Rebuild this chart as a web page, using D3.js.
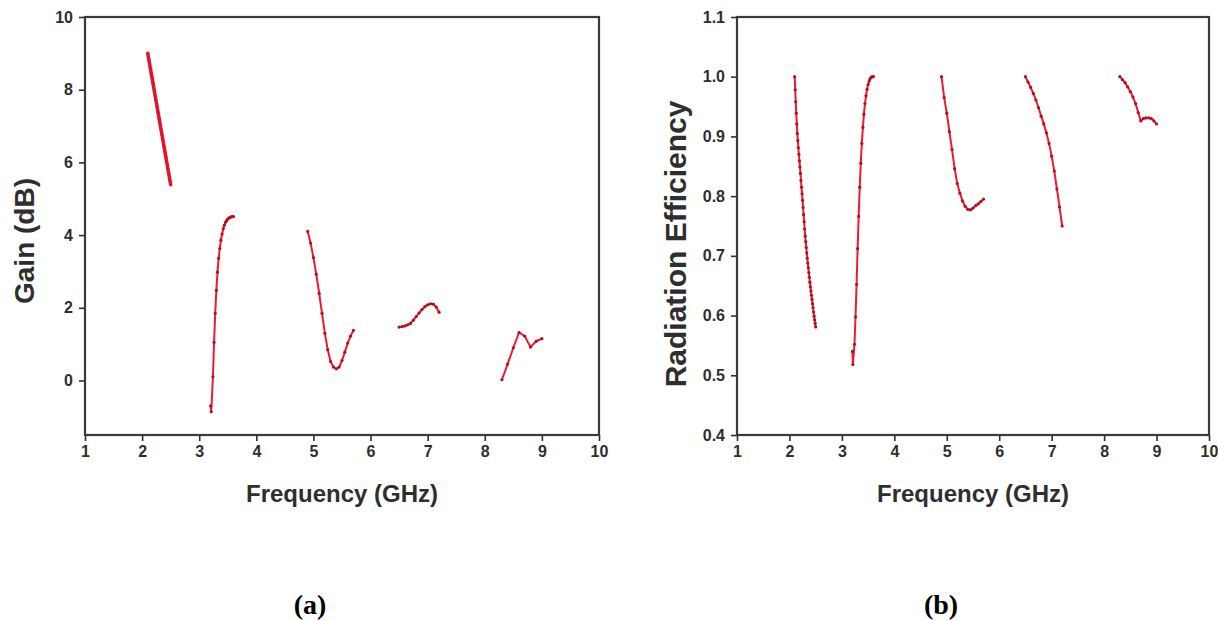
<!DOCTYPE html>
<html>
<head>
<meta charset="utf-8">
<script src="https://cdn.jsdelivr.net/npm/d3@7"></script>
<style>
  html, body { margin: 0; padding: 0; background: #fff; }
  svg { display: block; }
</style>
</head>
<body>
<svg id="fig" width="1218" height="621"></svg>
<script>
// ---- Gain (dB) per band: [frequency GHz, gain dB]
const gainBand1 = [
  [2.10,9.00],[2.11,8.90],[2.12,8.81],[2.13,8.72],[2.14,8.63],[2.15,8.54],[2.16,8.45],
  [2.17,8.36],[2.18,8.27],[2.19,8.18],[2.20,8.09],[2.21,8.00],[2.22,7.91],[2.23,7.82],
  [2.24,7.73],[2.25,7.64],[2.26,7.55],[2.27,7.46],[2.28,7.37],[2.29,7.28],[2.30,7.19],
  [2.31,7.10],[2.32,7.01],[2.33,6.92],[2.34,6.83],[2.35,6.74],[2.36,6.65],[2.37,6.56],
  [2.38,6.47],[2.39,6.38],[2.40,6.29],[2.41,6.20],[2.42,6.11],[2.43,6.02],[2.44,5.93],
  [2.45,5.84],[2.46,5.75],[2.47,5.66],[2.48,5.57],[2.49,5.48],[2.50,5.39]
];
const gainBand2 = [
  [3.20,-0.70],[3.21,-0.86],[3.24,0.10],[3.26,1.05],[3.28,1.85],[3.30,2.48],[3.32,2.98],
  [3.34,3.36],[3.36,3.63],[3.38,3.86],[3.40,4.03],[3.42,4.17],[3.44,4.27],[3.46,4.35],
  [3.48,4.40],[3.50,4.44],[3.52,4.47],[3.54,4.49],[3.56,4.50],[3.58,4.51],[3.60,4.51]
];
const gainBand3 = [
  [4.90,4.10],[4.95,3.78],[5.00,3.38],[5.05,2.92],[5.10,2.40],[5.15,1.85],[5.20,1.30],
  [5.25,0.85],[5.30,0.52],[5.35,0.37],[5.40,0.32],[5.45,0.37],[5.50,0.55],[5.55,0.78],
  [5.60,1.03],[5.65,1.22],[5.70,1.38]
];
const gainBand4 = [
  [6.50,1.47],[6.55,1.48],[6.60,1.50],[6.65,1.53],[6.70,1.57],[6.75,1.66],[6.80,1.76],
  [6.85,1.86],[6.90,1.95],[6.95,2.03],[7.00,2.08],[7.05,2.11],[7.10,2.10],[7.15,2.02],
  [7.20,1.88]
];
const gainBand5 = [
  [8.30,0.02],[8.40,0.45],[8.50,0.90],[8.60,1.32],[8.70,1.22],[8.80,0.92],[8.90,1.08],
  [9.00,1.15]
];

// ---- Radiation efficiency per band: [frequency GHz, efficiency]
const effBand1 = [
  [2.10,1.000],[2.11,0.978],[2.12,0.958],[2.13,0.939],[2.14,0.921],[2.15,0.905],[2.16,0.893],
  [2.17,0.881],[2.18,0.870],[2.19,0.859],[2.20,0.849],[2.21,0.838],[2.22,0.826],[2.23,0.815],
  [2.24,0.804],[2.25,0.793],[2.26,0.781],[2.27,0.769],[2.28,0.757],[2.29,0.745],[2.30,0.733],
  [2.31,0.724],[2.32,0.714],[2.33,0.705],[2.34,0.696],[2.35,0.688],[2.36,0.680],[2.37,0.672],
  [2.38,0.664],[2.39,0.656],[2.40,0.648],[2.41,0.641],[2.42,0.634],[2.43,0.627],[2.44,0.620],
  [2.45,0.613],[2.46,0.606],[2.47,0.599],[2.48,0.593],[2.49,0.587],[2.50,0.581]
];
const effBand2 = [
  [3.20,0.540],[3.21,0.518],[3.24,0.552],[3.26,0.598],[3.28,0.652],[3.30,0.712],[3.32,0.766],
  [3.34,0.815],[3.36,0.855],[3.38,0.888],[3.40,0.915],[3.42,0.937],[3.44,0.955],[3.46,0.968],
  [3.48,0.979],[3.50,0.987],[3.52,0.993],[3.54,0.997],[3.56,0.999],[3.58,1.000],[3.60,1.000]
];
const effBand3 = [
  [4.90,1.000],[4.95,0.965],[5.00,0.939],[5.05,0.908],[5.10,0.878],[5.15,0.846],[5.20,0.821],
  [5.25,0.805],[5.30,0.792],[5.35,0.783],[5.40,0.778],[5.45,0.777],[5.50,0.780],[5.55,0.784],
  [5.60,0.787],[5.65,0.791],[5.70,0.795]
];
const effBand4 = [
  [6.50,1.000],[6.55,0.991],[6.60,0.982],[6.65,0.972],[6.70,0.961],[6.75,0.948],[6.80,0.934],
  [6.85,0.921],[6.90,0.906],[6.95,0.888],[7.00,0.867],[7.05,0.842],[7.10,0.812],[7.15,0.782],
  [7.20,0.750]
];
const effBand5 = [
  [8.30,1.000],[8.35,0.995],[8.40,0.990],[8.45,0.983],[8.50,0.975],[8.55,0.966],[8.60,0.955],
  [8.65,0.940],[8.70,0.926],[8.75,0.930],[8.80,0.931],[8.85,0.931],[8.90,0.930],[8.95,0.926],
  [9.00,0.921]
];

// ---- Axis ticks
const freqTicks = [1,2,3,4,5,6,7,8,9,10];
const gainTicks = [0,2,4,6,8,10];
const effTicks = [0.4,0.5,0.6,0.7,0.8,0.9,1.0,1.1];

const svg = d3.select("#fig");
const SANS = "'Liberation Sans', Arial, sans-serif";
const INK = "#2e2e2e";
const LINE_RED = "#ec1a32";
const DOT_RED = "#b3101f";

function panel(cfg) {
  const x = d3.scaleLinear().domain([1, 10]).range([cfg.left, cfg.right]);
  const y = d3.scaleLinear().domain(cfg.yDomain).range([cfg.bottom, cfg.top]);
  const g = svg.append("g");

  // bottom axis
  const xa = g.append("g")
    .attr("transform", `translate(0,${cfg.bottom})`)
    .call(d3.axisBottom(x).tickValues(freqTicks).tickFormat(d3.format("d"))
      .tickSizeInner(6).tickSizeOuter(0).tickPadding(5));
  // left axis
  const ya = g.append("g")
    .attr("transform", `translate(${cfg.left},0)`)
    .call(d3.axisLeft(y).tickValues(cfg.yTicks).tickFormat(cfg.yFormat)
      .tickSizeInner(6).tickSizeOuter(0).tickPadding(6));

  [xa, ya].forEach(a => {
    a.select(".domain").remove();
    a.selectAll(".tick line").attr("stroke", INK).attr("stroke-width", 1.6);
    a.selectAll(".tick text")
      .attr("fill", INK)
      .style("font-family", SANS)
      .style("font-weight", "bold")
      .style("font-size", "16px");
  });

  // frame
  g.append("rect")
    .attr("x", cfg.left).attr("y", cfg.top)
    .attr("width", cfg.right - cfg.left).attr("height", cfg.bottom - cfg.top)
    .attr("fill", "none").attr("stroke", "#3a3a3a").attr("stroke-width", 2.2);

  // bands: connecting line plus a small dot at each simulated frequency
  const line = d3.line().x(d => x(d[0])).y(d => y(d[1]));
  cfg.bands.forEach((band, i) => {
    const dense = cfg.denseBand === i;
    g.append("path")
      .datum(band)
      .attr("d", line)
      .attr("fill", "none")
      .attr("stroke", LINE_RED)
      .attr("stroke-width", dense ? 3.6 : 2)
      .attr("stroke-linejoin", "round")
      .attr("stroke-linecap", "round");
    g.append("g").selectAll("circle")
      .data(band)
      .join("circle")
      .attr("cx", d => x(d[0]))
      .attr("cy", d => y(d[1]))
      .attr("r", dense ? 1.3 : 1.6)
      .attr("fill", dense ? "#d8102a" : DOT_RED);
  });

  // axis titles
  g.append("text")
    .attr("x", (cfg.left + cfg.right) / 2)
    .attr("y", 502)
    .attr("text-anchor", "middle")
    .attr("fill", INK)
    .style("font-family", SANS)
    .style("font-weight", "bold")
    .style("font-size", "24px")
    .text("Frequency (GHz)");

  g.append("text")
    .attr("transform", `translate(${cfg.yTitleX},${cfg.yTitleY}) rotate(-90)`)
    .attr("text-anchor", "middle")
    .attr("fill", INK)
    .style("font-family", SANS)
    .style("font-weight", "bold")
    .style("font-size", cfg.yTitleSize)
    .text(cfg.yTitle);

  // panel letter
  g.append("text")
    .attr("x", cfg.letterX)
    .attr("y", 614)
    .attr("text-anchor", "middle")
    .attr("fill", "#000")
    .style("font-family", "'Liberation Serif', 'Times New Roman', serif")
    .style("font-weight", "bold")
    .style("font-size", "28px")
    .text(cfg.letter);
}

panel({
  left: 85, right: 599, top: 17, bottom: 435,
  yDomain: [-1.5, 10], yTicks: gainTicks, yFormat: d3.format("d"),
  bands: [gainBand1, gainBand2, gainBand3, gainBand4, gainBand5], denseBand: 0,
  yTitle: "Gain (dB)", yTitleX: 34, yTitleY: 241, yTitleSize: "28px",
  letter: "(a)", letterX: 310
});

panel({
  left: 737, right: 1209, top: 17, bottom: 435,
  yDomain: [0.4, 1.1], yTicks: effTicks, yFormat: d3.format(".1f"),
  bands: [effBand1, effBand2, effBand3, effBand4, effBand5], denseBand: -1,
  yTitle: "Radiation Efficiency", yTitleX: 686, yTitleY: 244, yTitleSize: "30px",
  letter: "(b)", letterX: 941
});
</script>
</body>
</html>
